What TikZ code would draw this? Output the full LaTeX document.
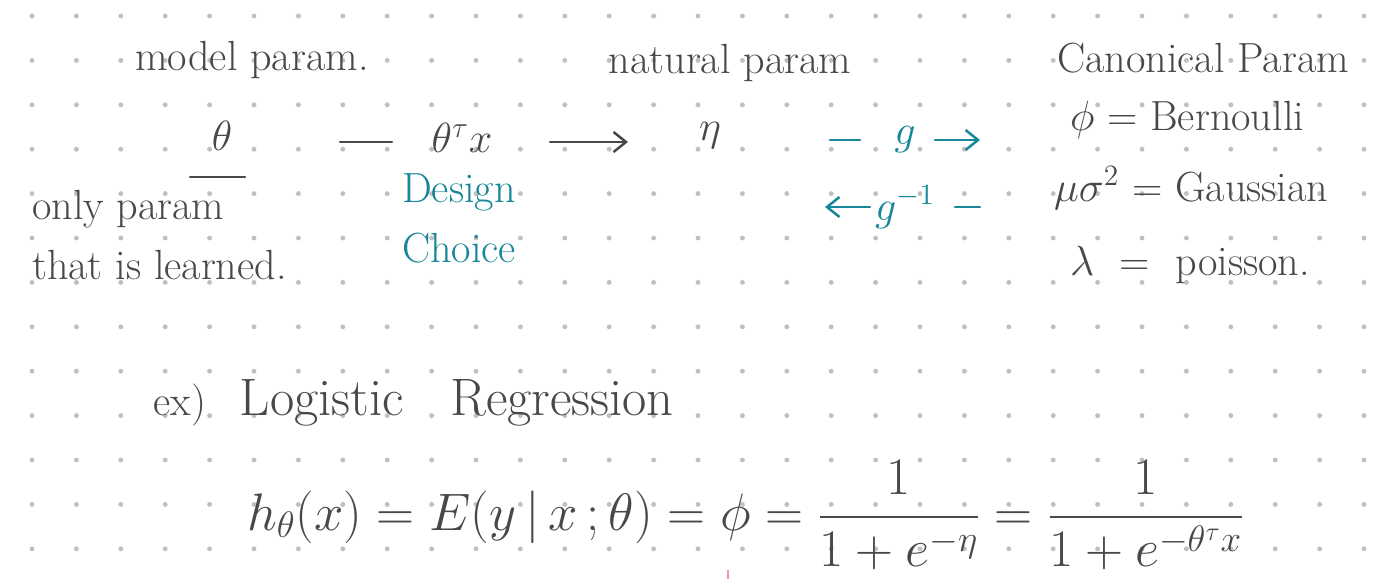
\RequirePackage{fix-cm}
\documentclass[tikz,border=0pt]{standalone}
\usepackage{amsmath}
\usepackage{fontspec}
\usetikzlibrary{positioning, arrows.meta}
\definecolor{NoteInk}{RGB}{72, 72, 72}
\definecolor{NoteTeal}{RGB}{22, 134, 152}
\definecolor{NoteDot}{RGB}{192, 192, 192}
\definecolor{NotePink}{RGB}{240, 150, 160}
\tikzset{
  word/.style={text=NoteInk, inner sep=1pt, font=\fontsize{24}{34}\selectfont},
  tword/.style={word, text=NoteTeal},
  big/.style={word, font=\fontsize{30}{36}\selectfont},
  ink/.style={NoteInk, line width=1.4pt, line cap=round},
  tink/.style={ink, NoteTeal},
  flow/.style={ink, -{Straight Barb[length=2.5mm, width=4mm]}},
  tflow/.style={tink, -{Straight Barb[length=2.5mm, width=4mm]}},
}
\begin{document}
\begin{tikzpicture}[x=0.02cm, y=-0.02cm]
    \useasboundingbox[fill=white] (0,0) rectangle (1376,579);
    % dotted paper
    \foreach \i in {0,...,30}
      \foreach \j in {0,...,12}
        \fill[NoteDot] (32+44.4*\i, 16+44.4*\j) circle (1.4pt);
    % headings
    \node[word] (mparam) at (252,60) {model param.};
    \node[word] (nparam) at (730,63) {natural param};
    \node[word] (cparam) at (1203,58) {Canonical Param};
    % parameter chain
    \node[word] (theta) at (222,136) {$\theta$};
    \node[word] (thx) at (462,138) {$\theta^{\tau}x$};
    \node[word] (eta) at (710,136) {$\eta$};
    \coordinate (ul1) at (190,177); \coordinate (ul2) at (245,177);
    \coordinate (d1) at (340,142); \coordinate (d2) at (392,142);
    \coordinate (a1) at (550,142); \coordinate (a2) at (628,142);
    \draw[ink] (ul1)--(ul2); \draw[ink] (d1)--(d2); \draw[flow] (a1)--(a2);
    \node[word, align=left, anchor=north west] (only) at (30,188) {only param\\that is learned.};
    \node[tword, align=left, anchor=north west] (design) at (400,172) {Design\\Choice};
    % link function
    \node[tword] (g) at (905,140) {$g$};
    \node[tword] (ginv) at (905,207) {$g^{-1}$};
    \coordinate (g1) at (830,140); \coordinate (g2) at (860,140);
    \coordinate (g3) at (935,140); \coordinate (g4) at (980,140);
    \coordinate (h1) at (870,207); \coordinate (h2) at (825,207);
    \coordinate (h3) at (955,207); \coordinate (h4) at (980,207);
    \draw[tink] (g1)--(g2); \draw[tflow] (g3)--(g4);
    \draw[tflow] (h1)--(h2); \draw[tink] (h3)--(h4);
    % canonical params
    \node[word, anchor=west] (bern) at (1068,120) {$\phi$ = Bernoulli};
    \node[word, anchor=west] (gauss) at (1052,188) {$\mu\sigma^{2}$ = Gaussian};
    \node[word, anchor=west] (pois) at (1068,265) {$\lambda$\ \ = \ poisson.};
    % example
    \node[word] (ex) at (180,405) {ex)};
    \node[big] (logi) at (322,403) {Logistic};
    \node[big] (regr) at (562,403) {Regression};
    \node[big, anchor=west] (hyp) at (245,515)
      {$h_{\theta}(x) = E(y\,|\,x\,;\theta) = \phi = \dfrac{1}{1+e^{-\eta}} = \dfrac{1}{1+e^{-\theta^{\tau}x}}$};
    \coordinate (pk1) at (728,570); \coordinate (pk2) at (728,579);
    \draw[NotePink, line width=1pt] (pk1)--(pk2);
\end{tikzpicture}
\end{document}
